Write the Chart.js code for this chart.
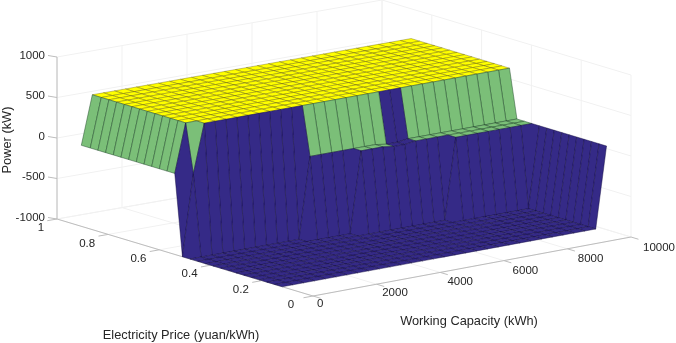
<!DOCTYPE html>
<html>
<head>
<meta charset="utf-8">
<style>
  html, body { margin: 0; padding: 0; background: #fff; }
  canvas { display: block; }
</style>
<script src="https://cdn.jsdelivr.net/npm/chart.js@4"></script>
</head>
<body>
<canvas id="surfaceChart" width="676" height="343"></canvas>
<script>
// grid of the surface
const capacities = [0,339,678,1017,1356,1695,2034,2373,2712,3051,3390,3729,4068,4407,4746,5085,5424,5763,6102,6441,6780,7119,7458,7797,8136,8475,8814,9153,9492,9831,10170];
const prices = [0.12,0.15,0.18,0.21,0.24,0.27,0.30,0.33,0.36,0.39,0.42,0.45,0.48,0.51,0.54,0.57,0.60,0.63,0.66,0.69,0.72,0.75,0.78,0.81,0.84,0.87,0.905];

// one row per price, one column per capacity
const power = [
  [-1000,-1000,-1000,-1000,-1000,-1000,-1000,-1000,-1000,-1000,-1000,-1000,-1000,-1000,-1000,-1000,-1000,-1000,-1000,-1000,-1000,-1000,-1000,-1000,-1000,-1000,-1000,-1000,-1000,-1000,0],
  [-1000,-1000,-1000,-1000,-1000,-1000,-1000,-1000,-1000,-1000,-1000,-1000,-1000,-1000,-1000,-1000,-1000,-1000,-1000,-1000,-1000,-1000,-1000,-1000,-1000,-1000,-1000,-1000,-1000,-1000,0],
  [-1000,-1000,-1000,-1000,-1000,-1000,-1000,-1000,-1000,-1000,-1000,-1000,-1000,-1000,-1000,-1000,-1000,-1000,-1000,-1000,-1000,-1000,-1000,-1000,-1000,-1000,-1000,-1000,-1000,-1000,0],
  [-1000,-1000,-1000,-1000,-1000,-1000,-1000,-1000,-1000,-1000,-1000,-1000,-1000,-1000,-1000,-1000,-1000,-1000,-1000,-1000,-1000,-1000,-1000,-1000,-1000,-1000,-1000,-1000,-1000,-1000,0],
  [-1000,-1000,-1000,-1000,-1000,-1000,-1000,-1000,-1000,-1000,-1000,-1000,-1000,-1000,-1000,-1000,-1000,-1000,-1000,-1000,-1000,-1000,-1000,-1000,-1000,-1000,-1000,-1000,-1000,-1000,0],
  [-1000,-1000,-1000,-1000,-1000,-1000,-1000,-1000,-1000,-1000,-1000,-1000,-1000,-1000,-1000,-1000,-1000,-1000,-1000,-1000,-1000,-1000,-1000,-1000,-1000,-1000,-1000,-1000,-1000,-1000,0],
  [-1000,-1000,-1000,-1000,-1000,-1000,-1000,-1000,-1000,-1000,-1000,-1000,-1000,-1000,-1000,-1000,-1000,-1000,-1000,-1000,-1000,-1000,-1000,-1000,-1000,-1000,-1000,-1000,-1000,-1000,0],
  [-1000,-1000,-1000,-1000,-1000,-1000,-1000,-1000,-1000,-1000,-1000,-1000,-1000,-1000,-1000,-1000,-1000,-1000,-1000,-1000,-1000,-1000,-1000,-1000,-1000,-1000,-1000,-1000,-1000,-1000,0],
  [-1000,-1000,-1000,-1000,-1000,-1000,-1000,-1000,-1000,-1000,-1000,-1000,-1000,-1000,-1000,-1000,-1000,-1000,-1000,-1000,-1000,-1000,-1000,-1000,-1000,-1000,-1000,-1000,-1000,-1000,0],
  [-1000,-1000,-1000,-1000,-1000,-1000,-1000,-1000,-1000,-1000,-1000,-1000,-1000,-1000,-1000,-1000,-1000,-1000,-1000,-1000,-1000,-1000,-1000,-1000,-1000,-1000,-1000,-1000,-1000,-1000,0],
  [-1000,-1000,-1000,-1000,-1000,-1000,-1000,-1000,-1000,-1000,-1000,-1000,-1000,-1000,-1000,-1000,-1000,-1000,-1000,-1000,-1000,-1000,-1000,0,0,0,0,0,0,0,0],
  [-1000,-1000,-1000,-1000,-1000,-1000,-1000,-1000,-1000,-1000,-1000,-1000,-1000,-1000,-1000,0,0,0,-20,-20,0,0,0,0,0,0,0,0,0,0,0],
  [-1000,-1000,-1000,-1000,-1000,-1000,-1000,-1000,-1000,-1000,-1000,0,0,0,0,0,0,0,-20,-20,0,0,0,0,0,0,0,0,0,0,0],
  [-1000,0,600,600,600,600,600,600,600,600,600,600,600,600,600,600,600,600,600,600,600,600,600,600,600,600,600,600,600,600,600],
  [0,600,600,600,600,600,600,600,600,600,600,600,600,600,600,600,600,600,600,600,600,600,600,600,600,600,600,600,600,600,600],
  [0,600,600,600,600,600,600,600,600,600,600,600,600,600,600,600,600,600,600,600,600,600,600,600,600,600,600,600,600,600,600],
  [0,600,600,600,600,600,600,600,600,600,600,600,600,600,600,600,600,600,600,600,600,600,600,600,600,600,600,600,600,600,600],
  [0,600,600,600,600,600,600,600,600,600,600,600,600,600,600,600,600,600,600,600,600,600,600,600,600,600,600,600,600,600,600],
  [0,600,600,600,600,600,600,600,600,600,600,600,600,600,600,600,600,600,600,600,600,600,600,600,600,600,600,600,600,600,600],
  [0,600,600,600,600,600,600,600,600,600,600,600,600,600,600,600,600,600,600,600,600,600,600,600,600,600,600,600,600,600,600],
  [0,600,600,600,600,600,600,600,600,600,600,600,600,600,600,600,600,600,600,600,600,600,600,600,600,600,600,600,600,600,600],
  [0,600,600,600,600,600,600,600,600,600,600,600,600,600,600,600,600,600,600,600,600,600,600,600,600,600,600,600,600,600,600],
  [0,600,600,600,600,600,600,600,600,600,600,600,600,600,600,600,600,600,600,600,600,600,600,600,600,600,600,600,600,600,600],
  [0,600,600,600,600,600,600,600,600,600,600,600,600,600,600,600,600,600,600,600,600,600,600,600,600,600,600,600,600,600,600],
  [0,600,600,600,600,600,600,600,600,600,600,600,600,600,600,600,600,600,600,600,600,600,600,600,600,600,600,600,600,600,600],
  [0,600,600,600,600,600,600,600,600,600,600,600,600,600,600,600,600,600,600,600,600,600,600,600,600,600,600,600,600,600,600],
  [0,600,600,600,600,600,600,600,600,600,600,600,600,600,600,600,600,600,600,600,600,600,600,600,600,600,600,600,600,600,600]
];

// axis ticks
const capacityTicks = [0, 2000, 4000, 6000, 8000, 10000];
const priceTicks = [0, 0.2, 0.4, 0.6, 0.8, 1];
const powerTicks = [-1000, -500, 0, 500, 1000];

const BLUE = "#352a87";
const GREEN = "#7bbf78";
const YELLOW = "#ffff00";
const GRID = "#f1f1f1";
const AXIS = "#bdbdbd";
const TEXT = "#262626";

// 3D view: floor corners on the picture, power goes straight up
function project(cap, price, kw) {
  const u = cap / 10000;
  const v = price;
  const x = (1 - u) * (1 - v) * 313 + u * (1 - v) * 631 + (1 - u) * v * 57 + u * v * 382;
  const y = (1 - u) * (1 - v) * 296 + u * (1 - v) * 237 + (1 - u) * v * 219 + u * v * 162;
  return { x: x, y: y - (kw + 1000) * 0.081 };
}

function faceColor(kw) {
  if (kw < 0) return BLUE;
  if (kw < 300) return GREEN;
  return YELLOW;
}

function edgeColor(kw) {
  if (kw < 0) return "rgba(15,10,60,0.55)";
  if (kw < 300) return "rgba(30,70,40,0.6)";
  return "rgba(90,80,0,0.45)";
}

function lineSet(points, color) {
  return {
    data: points,
    showLine: true,
    fill: false,
    borderColor: color,
    borderWidth: 1,
    pointRadius: 0,
    tension: 0,
  };
}

const datasets = [];

// the first dataset is painted last, so nearest faces go first
for (let i = 0; i < prices.length - 1; i++) {
  for (let j = 0; j < capacities.length - 1; j++) {
    const a = project(capacities[j], prices[i], power[i][j]);
    const b = project(capacities[j + 1], prices[i], power[i][j + 1]);
    const c = project(capacities[j + 1], prices[i + 1], power[i + 1][j + 1]);
    const d = project(capacities[j], prices[i + 1], power[i + 1][j]);
    datasets.push({
      data: [a, b, c, d, a],
      showLine: true,
      fill: "shape",
      backgroundColor: faceColor(power[i][j]),
      borderColor: edgeColor(power[i][j]),
      borderWidth: 0.8,
      pointRadius: 0,
      tension: 0,
    });
  }
}

// axis lines and tick marks
datasets.push(lineSet([project(0, 1, -1000), project(0, 1, 1000)], AXIS));
datasets.push(lineSet([project(0, 1, -1000), project(0, 0, -1000)], AXIS));
datasets.push(lineSet([project(0, 0, -1000), project(10000, 0, -1000)], AXIS));
capacityTicks.forEach((t) => datasets.push(lineSet([project(t, 0, -1000), project(t, -0.03, -1000)], AXIS)));
priceTicks.forEach((t) => datasets.push(lineSet([project(0, t, -1000), project(-300, t, -1000)], AXIS)));
powerTicks.forEach((t) => {
  const p = project(0, 1, t);
  datasets.push(lineSet([p, { x: p.x - 9, y: p.y - 1.5 }], AXIS));
});

// floor and back walls
capacityTicks.forEach((t) => {
  datasets.push(lineSet([project(t, 0, -1000), project(t, 1, -1000), project(t, 1, 1000)], GRID));
});
priceTicks.forEach((t) => {
  datasets.push(lineSet([project(0, t, -1000), project(10000, t, -1000), project(10000, t, 1000)], GRID));
});
powerTicks.forEach((t) => {
  datasets.push(lineSet([project(0, 1, t), project(10000, 1, t), project(10000, 0, t)], GRID));
});

const axisText = {
  id: "axisText",
  afterDraw(chart) {
    const ctx = chart.ctx;
    const sx = chart.scales.x;
    const sy = chart.scales.y;
    ctx.save();
    ctx.fillStyle = TEXT;
    ctx.font = '11.5px "Liberation Sans"';
    ctx.textBaseline = "middle";

    ctx.textAlign = "right";
    powerTicks.forEach((t) => {
      const p = project(0, 1, t);
      ctx.fillText(String(t), sx.getPixelForValue(p.x) - 12, sy.getPixelForValue(p.y) - 1.5);
    });

    ctx.textAlign = "center";
    priceTicks.forEach((t) => {
      const p = project(0, t, -1000);
      const dx = t === 1 ? -16 : t === 0 ? -22 : -21;
      ctx.fillText(String(t), sx.getPixelForValue(p.x) + dx, sy.getPixelForValue(p.y) + 9);
    });

    ctx.textAlign = "left";
    capacityTicks.forEach((t) => {
      const p = project(t, 0, -1000);
      const f = t / 10000;
      ctx.fillText(String(t), sx.getPixelForValue(p.x) + 4 + 8 * f, sy.getPixelForValue(p.y) + 8 + 3 * f);
    });

    ctx.font = '12.8px "Liberation Sans"';
    ctx.textAlign = "center";
    ctx.fillText("Electricity Price (yuan/kWh)", 181, 335);
    ctx.fillText("Working Capacity (kWh)", 469, 321);
    ctx.translate(7, 140);
    ctx.rotate(-Math.PI / 2);
    ctx.fillText("Power (kW)", 0, 0);
    ctx.restore();
  },
};

new Chart(document.getElementById("surfaceChart"), {
  type: "scatter",
  data: { datasets: datasets },
  plugins: [axisText],
  options: {
    responsive: false,
    animation: false,
    layout: { padding: 0 },
    plugins: { legend: { display: false }, tooltip: { enabled: false } },
    scales: {
      x: { type: "linear", min: 0, max: 676, display: false },
      y: { type: "linear", min: 0, max: 343, reverse: true, display: false },
    },
  },
});
</script>
</body>
</html>
